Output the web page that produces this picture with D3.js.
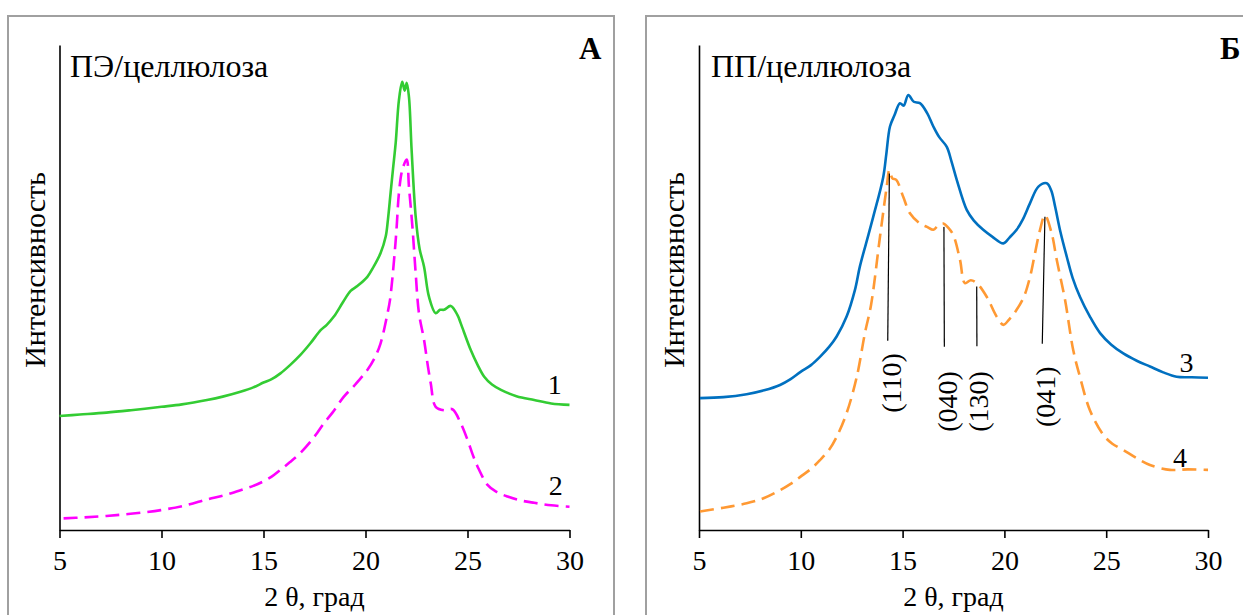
<!DOCTYPE html>
<html><head><meta charset="utf-8">
<script src="https://cdn.jsdelivr.net/npm/d3@7"></script>
<style>
html,body{margin:0;padding:0;background:#fff;}
svg text{font-family:"Liberation Serif","Times New Roman",Tinos,"DejaVu Serif","Noto Serif",serif !important;fill:#000;}
</style></head>
<body>
<svg id="chart" width="1243" height="615"></svg>
<script>
// ---- data ----
const xTicks = [5, 10, 15, 20, 25, 30];
const xDomain = [5, 30];
const yDomain = [0, 100];

const pe1 = [[5,23.5],[6,23.8],[7.3,24.2],[8.5,24.7],[10,25.4],[11,25.9],[12.23,26.8],[13,27.5],[13.87,28.5],[14.5,29.4],[15,30.4],[15.4,31.1],[15.83,32.3],[16.3,34.0],[16.81,36.1],[17.3,38.5],[17.8,41.2],[18.1,42.3],[18.45,44.0],[18.9,47.0],[19.27,49.3],[19.6,50.3],[20.09,52.2],[20.4,54.3],[20.74,57.1],[20.99,60.5],[21.1,64.0],[21.23,69.5],[21.35,74.5],[21.48,79.8],[21.64,88.7],[21.8,92.4],[21.92,90.6],[22.02,92.2],[22.13,89.3],[22.26,78.4],[22.46,64.6],[22.65,58.0],[22.87,54.3],[23.11,48.1],[23.44,44.7],[23.65,45.4],[23.85,45.4],[24.18,46.2],[24.51,44.3],[24.67,42.6],[25.16,37.1],[25.5,34.0],[25.82,31.6],[26.2,30.0],[26.64,28.9],[27.4,27.6],[28.27,26.8],[29.1,26.1],[30,25.8]];
const pe2 = [[5.2,2.4],[6.2,2.6],[7.3,2.9],[8.6,3.4],[9.97,4.1],[11.2,5.1],[12.23,6.3],[13.1,7.2],[13.87,8.2],[14.5,9.1],[14.98,10.0],[15.4,11.0],[15.83,12.4],[16.3,14.0],[16.81,15.9],[17.3,18.2],[17.63,20.0],[17.96,22.0],[18.4,24.3],[18.94,27.5],[19.5,30.0],[20.09,33.0],[20.45,35.5],[20.74,38.5],[21.07,44.5],[21.2,47.4],[21.4,55.7],[21.52,62.0],[21.64,69.5],[21.8,74.2],[22.02,76.4],[22.13,70.8],[22.3,62.5],[22.46,52.9],[22.62,44.7],[22.87,39.2],[23.05,34.0],[23.2,30.2],[23.44,25.4],[23.85,24.7],[24.26,24.9],[24.67,22.0],[25.0,18.6],[25.25,15.6],[25.49,13.1],[25.98,9.3],[26.4,7.9],[26.96,6.9],[27.6,6.1],[28.27,5.6],[29.1,5.1],[30,4.8]];
const pp3 = [[5.05,27.2],[6.2,27.4],[7.34,28.0],[8.2,28.8],[8.98,29.9],[9.5,31.1],[9.99,32.6],[10.5,34.0],[10.94,35.7],[11.4,37.8],[11.76,39.9],[12.25,44.0],[12.66,49.5],[12.9,54.3],[13.2,59.0],[13.56,64.6],[14.05,72.8],[14.2,77.5],[14.38,83.2],[14.6,85.5],[14.87,88.0],[15.05,87.5],[15.28,89.7],[15.55,88.3],[15.85,88.0],[16.2,86.0],[16.51,83.2],[16.8,81.0],[17.17,79.0],[17.4,76.0],[17.66,72.2],[18.15,66.0],[18.5,63.8],[18.96,61.9],[19.4,60.5],[19.95,59.1],[20.25,60.3],[20.6,61.9],[20.9,64.0],[21.26,67.4],[21.67,70.8],[22.08,71.5],[22.3,70.0],[22.49,66.7],[22.75,61.5],[23.06,56.4],[23.35,52.0],[23.71,48.1],[24.2,44.0],[24.7,40.6],[25.25,38.2],[25.84,36.4],[26.5,34.9],[27.15,33.7],[27.8,32.5],[28.46,31.6],[29.2,31.5],[30,31.4]];
const pp4 = [[5.05,3.8],[6.2,4.6],[7.34,5.5],[8.2,6.6],[8.98,8.2],[9.5,9.5],[9.99,11.0],[10.5,12.6],[10.94,14.4],[11.4,16.6],[11.76,19.2],[12.25,24.1],[12.75,31.6],[13.15,40.6],[13.45,46.4],[13.89,60.5],[14.22,70.8],[14.35,74.2],[14.5,72.5],[14.69,72.2],[15.03,68.7],[15.36,65.3],[15.85,63.2],[16.2,62.5],[16.51,61.9],[16.75,62.8],[17.0,63.2],[17.25,62.3],[17.49,60.8],[17.82,55.7],[18.06,50.9],[18.35,51.5],[18.64,50.9],[19.13,48.1],[19.62,44.0],[19.95,42.3],[20.25,43.5],[20.6,45.4],[20.95,48.0],[21.26,52.2],[21.5,57.0],[21.75,61.9],[21.99,64.9],[22.32,61.2],[22.57,55.7],[22.98,47.4],[23.38,37.1],[23.71,31.6],[24.2,24.7],[24.86,19.6],[25.3,17.8],[25.84,16.5],[26.5,14.8],[27.15,13.4],[28.13,12.4],[29,12.5],[30,12.4]];

const peTitle = "ПЭ/целлюлоза";
const ppTitle = "ПП/целлюлоза";
const xLabel = "2 θ, град";
const yLabel = "Интенсивность";

// reflection annotations: label, x top, y top, x bottom, y bottom, label x, label y
const reflections = [
  ["(110)", 14.35, 73.5, 14.27, 39.0, 14.46, 30.3],
  ["(040)", 17.03, 62.5, 17.05, 37.8, 17.17, 26.5],
  ["(130)", 18.64, 50.2, 18.65, 37.9, 18.72, 26.5],
  ["(041)", 21.99, 64.6, 21.86, 38.4, 21.99, 27.5]
];

// ---- drawing ----
const svg = d3.select("#chart");
const plotTop = 45, plotBottom = 530;
const FF = '"Liberation Serif","Times New Roman",Tinos,"DejaVu Serif",serif';

function panel(cfg){
  const g = svg.append("g").attr("font-family", FF);
  g.append("rect").attr("x", cfg.bx).attr("y", 16).attr("width", cfg.bw).attr("height", 640)
    .attr("fill", "none").attr("stroke", "#a0a0a0").attr("stroke-width", 2);
  const x = d3.scaleLinear().domain(xDomain).range([cfg.x0, cfg.x1]);
  const y = d3.scaleLinear().domain(yDomain).range([plotBottom, plotTop]);

  const xa = g.append("g").attr("transform", `translate(0,${plotBottom})`)
    .call(d3.axisBottom(x).tickValues(xTicks).tickSize(8).tickSizeOuter(0).tickPadding(12).tickFormat(d3.format("d")));
  xa.attr("font-family", FF);
  xa.selectAll("path,line").attr("stroke", "#000").attr("stroke-width", 1.6);
  xa.selectAll("text").attr("font-size", 28).attr("fill", "#000");

  const ya = g.append("g").attr("transform", `translate(${cfg.x0},0)`)
    .call(d3.axisLeft(y).tickValues([]).tickSizeOuter(0));
  ya.selectAll("path").attr("stroke", "#000").attr("stroke-width", 1.6);

  const line = d3.line().x(d => x(d[0])).y(d => y(d[1])).curve(d3.curveCatmullRom.alpha(0.5));
  cfg.series.forEach(s => {
    g.append("path").datum(s.data).attr("d", line).attr("fill", "none")
      .attr("stroke", s.color).attr("stroke-width", 2.6)
      .attr("stroke-dasharray", s.dash || null).attr("stroke-linejoin", "round");
    g.append("text").attr("x", x(s.lx)).attr("y", y(s.ly)).attr("dy", "0.35em")
      .attr("text-anchor", "middle").attr("font-size", 28).text(s.label);
  });

  g.append("text").attr("x", cfg.tx).attr("y", 77).attr("font-size", 32).text(cfg.title);
  g.append("text").attr("x", cfg.lx).attr("y", 59).attr("font-size", 31).attr("font-weight", "bold")
    .text(cfg.letter);
  g.append("text").attr("transform", `translate(${cfg.yl},270) rotate(-90)`)
    .attr("text-anchor", "middle").attr("dy", "0.35em").attr("font-size", 30).text(yLabel);
  g.append("text").attr("x", (cfg.x0 + cfg.x1) / 2).attr("y", 606).attr("text-anchor", "middle")
    .attr("font-size", 28).text(xLabel);
  return {x, y, g};
}

panel({bx: 8, bw: 606, x0: 59.5, x1: 569.5, title: peTitle, tx: 70, letter: "А", lx: 579, yl: 34,
  series: [
    {data: pe1, color: "#33cc33", label: "1", lx: 29.28, ly: 30},
    {data: pe2, color: "#ff00ff", dash: "14,7", label: "2", lx: 29.33, ly: 9.3}
  ]});

const right = panel({bx: 646, bw: 640, x0: 699, x1: 1208, title: ppTitle, tx: 711, letter: "Б", lx: 1220, yl: 673,
  series: [
    {data: pp3, color: "#0070c0", label: "3", lx: 28.95, ly: 34.7},
    {data: pp4, color: "#ff9933", dash: "14,7", label: "4", lx: 28.63, ly: 15.1}
  ]});

reflections.forEach(r => {
  right.g.append("line").attr("x1", right.x(r[1])).attr("y1", right.y(r[2]))
    .attr("x2", right.x(r[3])).attr("y2", right.y(r[4])).attr("stroke", "#000").attr("stroke-width", 1.2);
  right.g.append("text")
    .attr("transform", `translate(${right.x(r[5])},${right.y(r[6])}) rotate(-90)`)
    .attr("text-anchor", "middle").attr("dy", "0.35em").attr("font-size", 28).text(r[0]);
});
</script>
</body></html>
